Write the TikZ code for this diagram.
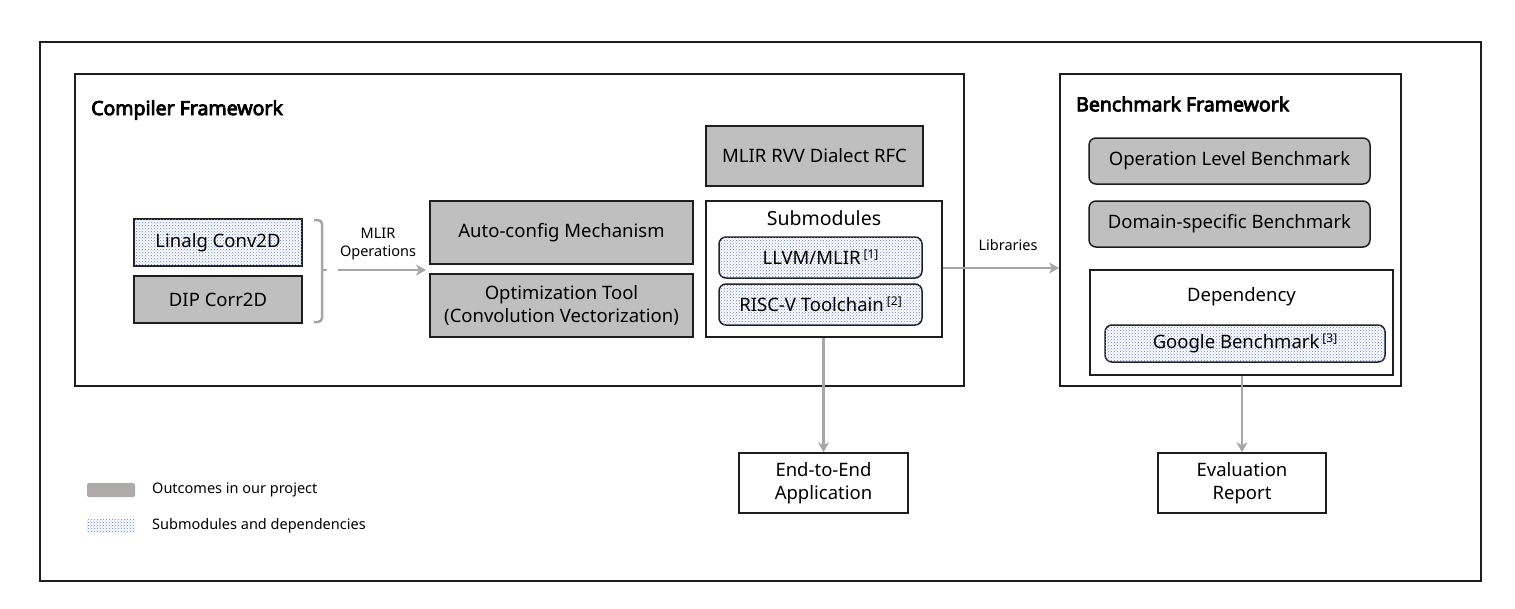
\documentclass[tikz,border=0pt]{standalone}
\usepackage{fontspec}
\setmainfont{Noto Sans}
\newfontfamily\headfont{Noto Sans}[FakeBold=4]
\usetikzlibrary{arrows.meta,patterns}
\definecolor{boxgray}{RGB}{191,191,191}
\definecolor{leggray}{RGB}{174,170,170}
\definecolor{dotblue}{RGB}{95,125,215}
\definecolor{linegray}{RGB}{166,166,166}
\definecolor{edge}{RGB}{30,30,30}
\newcommand{\citemark}[1]{\,{\fontsize{12}{13}\selectfont\raisebox{6pt}{[#1]}}}
\tikzset{
  frame/.style={draw=edge, line width=2pt, fill=white},
  plainbox/.style={draw=edge, line width=1.5pt, fill=white, inner sep=0pt, align=center, font=\fontsize{18.5}{22.5}\selectfont},
  graybox/.style={plainbox, fill=boxgray},
  dotbox/.style={plainbox, fill=white, postaction={pattern=crosshatch dots, pattern color=dotblue}},
  rgraybox/.style={graybox, rounded corners=7pt},
  rdotbox/.style={dotbox, rounded corners=7pt},
  conn/.style={draw=linegray, line width=2.5pt, -{Stealth[length=10pt,width=11pt,inset=3pt]}},
  lbl/.style={inner sep=0pt, align=center, font=\fontsize{14.5}{17.5}\selectfont},
  head/.style={inner sep=0pt, anchor=west, font=\fontsize{19.5}{22}\headfont},
}
\begin{document}
\begin{tikzpicture}[x=1pt,y=-1pt]
\useasboundingbox (0,0) rectangle (1515,608);
\node[frame, minimum width=1441, minimum height=539, inner sep=0pt] (outer) at (760.5,311.5) {};
% compiler framework
\node[frame, line width=1.8pt, minimum width=889, minimum height=312, inner sep=0pt] (cf) at (519.5,230) {};
\node[head] (cftitle) at (91,110) {Compiler Framework};
\node[graybox, minimum width=217, minimum height=60] (rvv) at (814.5,156) {MLIR RVV Dialect RFC};
\node[dotbox, minimum width=168, minimum height=47] (lin) at (218,242.5) {Linalg Conv2D};
\node[graybox, minimum width=168, minimum height=47] (dip) at (218,299.5) {DIP Corr2D};
\coordinate (btop) at (314,220);
\coordinate (bbot) at (314,322);
\coordinate (btip) at (327,270);
\draw[draw=linegray, line width=2.5pt, rounded corners=4pt] (btop) -- (322,220) -- (322,322) -- (bbot);
\draw[draw=linegray, line width=2.5pt] (322,270) -- (btip);
\node[graybox, minimum width=263, minimum height=63] (auto) at (561.5,232.5) {Auto-config Mechanism};
\node[graybox, minimum width=263, minimum height=63] (opt) at (561.5,305.5) {Optimization Tool\\(Convolution Vectorization)};
\coordinate (astart) at (338,270);
\coordinate (aend) at (426,270);
\draw[conn] (astart) -- (aend);
\node[lbl] (mlirop) at (378,244) {MLIR\\Operations};
\node[plainbox, minimum width=236, minimum height=136] (sub) at (824,269) {};
\node[plainbox, draw=none, fill=none, font=\fontsize{19.5}{22}\selectfont] (sublbl) at (824,218) {Submodules};
\node[rdotbox, minimum width=203, minimum height=41] (llvm) at (820.5,257.5) {LLVM/MLIR\citemark{1}};
\node[rdotbox, minimum width=203, minimum height=41] (risc) at (820.5,304.5) {RISC-V Toolchain\citemark{2}};
% benchmark framework
\node[frame, line width=1.8pt, minimum width=341, minimum height=312, inner sep=0pt] (bf) at (1230.5,230) {};
\node[head] (bftitle) at (1076,104) {Benchmark Framework};
\node[rgraybox, minimum width=281, minimum height=46] (op) at (1229.5,161) {Operation Level Benchmark};
\node[rgraybox, minimum width=281, minimum height=46] (dom) at (1229.5,224) {Domain-specific Benchmark};
\node[plainbox, minimum width=303, minimum height=105] (dep) at (1241.5,322.5) {};
\node[plainbox, draw=none, fill=none] (deplbl) at (1241.5,297) {Dependency};
\node[rdotbox, minimum width=280, minimum height=37] (goo) at (1245,343.5) {Google Benchmark\citemark{3}};
% libraries
\draw[conn] (sub.east |- 0,268) -- (bf.west |- 0,268);
\node[lbl] (libs) at (1008,245) {Libraries};
% outputs
\node[plainbox, minimum width=169, minimum height=60] (e2e) at (823.5,483) {End-to-End\\Application};
\node[plainbox, minimum width=168, minimum height=60] (eval) at (1242,483) {Evaluation\\Report};
\draw[conn] (sub.south -| e2e.north) -- (e2e.north);
\draw[conn] (dep.south -| eval.north) -- (eval.north);
% legend
\node[draw=none, fill=leggray, rounded corners=1.5pt, minimum width=48, minimum height=14, inner sep=0pt] (leg1) at (111,490) {};
\node[draw=none, fill=white, postaction={pattern=crosshatch dots, pattern color=dotblue}, minimum width=48, minimum height=13, inner sep=0pt] (leg2) at (111,526) {};
\node[lbl, anchor=west] (leg1t) at (152,490) {Outcomes in our project};
\node[lbl, anchor=west] (leg2t) at (152,526) {Submodules and dependencies};
\end{tikzpicture}
\end{document}
